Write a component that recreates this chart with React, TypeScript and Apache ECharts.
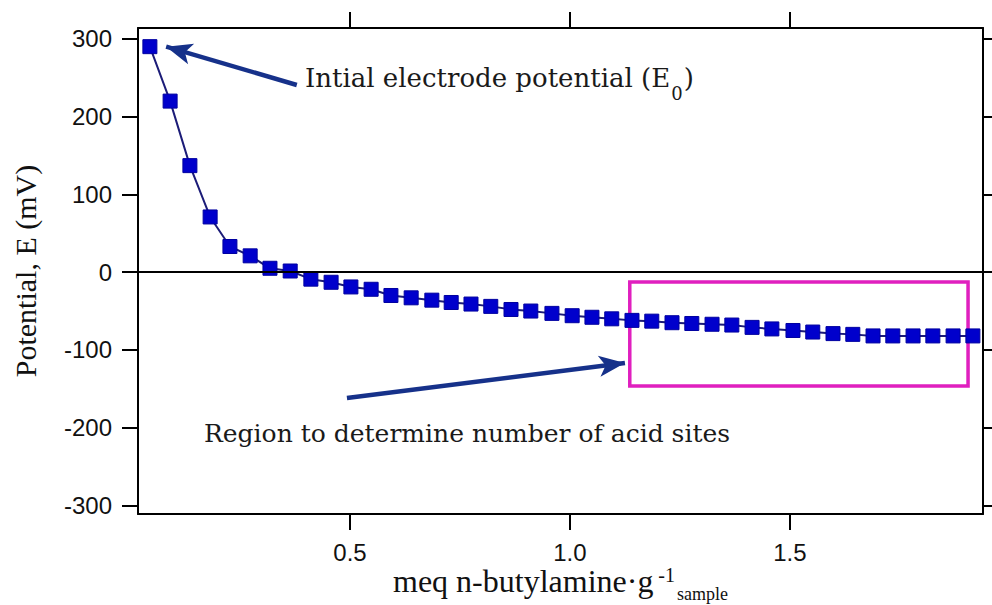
import React, { useEffect, useRef } from 'react';
import * as echarts from 'echarts';

// meq n-butylamine per g sample (x) and electrode potential E in mV (y)
const amineDose = [
  0.045, 0.091, 0.136, 0.182, 0.227, 0.273, 0.318, 0.364, 0.411, 0.457,
  0.502, 0.548, 0.593, 0.639, 0.686, 0.730, 0.775, 0.820, 0.866, 0.911,
  0.959, 1.005, 1.050, 1.095, 1.141, 1.186, 1.232, 1.277, 1.323, 1.368,
  1.414, 1.459, 1.507, 1.552, 1.598, 1.643, 1.689, 1.734, 1.780, 1.825,
  1.871, 1.916,
];
const potential = [
  290, 220, 137, 71, 33, 21, 5, 1.5, -9, -13,
  -19, -22, -30, -33, -36, -39, -41, -44, -48, -50,
  -53, -56, -58, -60, -62, -63, -65, -66, -67, -68,
  -71, -73, -75, -77, -79, -80, -82, -82, -82, -82,
  -82, -82,
];
const xTicks = [0.5, 1.0, 1.5];
const yTicks = [-300, -200, -100, 0, 100, 200, 300];
const xRange = [0.018, 1.939];
const yRange = [-311, 314];
const regionBox = [[1.136, -12.6], [1.905, -146.3]];
const arrowInitial = [[0.379, 240.7], [0.082, 290]];
const arrowRegion = [[0.493, -161.8], [1.125, -116.8]];
const annotationInitial = 'Intial electrode potential (E';
const annotationInitialSub = '0';
const annotationRegion = 'Region to determine number of acid sites';

export default function App() {
  const ref = useRef<HTMLDivElement>(null);
  useEffect(() => {
    const chart = echarts.init(ref.current as HTMLDivElement, null, { renderer: 'svg' });
    const axisLine = { show: true, onZero: false, lineStyle: { color: '#000', width: 2 } };
    const tick = (values: number[]) => ({
      show: true,
      inside: false,
      length: 16,
      customValues: values,
      lineStyle: { color: '#000', width: 2 },
    });
    const arrowColor = '#16318a';
    const serif = '"DejaVu Serif", serif';
    const times = '"Liberation Serif", serif';
    const sans = '"Liberation Sans", Arial, sans-serif';
    chart.setOption({
      animation: false,
      backgroundColor: '#fff',
      grid: { left: 138, right: 9, top: 28, bottom: 91, containLabel: false, outerBoundsMode: 'none' },
      xAxis: [
        {
          type: 'value',
          position: 'bottom',
          min: xRange[0],
          max: xRange[1],
          axisLine,
          axisTick: tick(xTicks),
          splitLine: { show: false },
          axisLabel: {
            customValues: xTicks,
            formatter: (v: number) => v.toFixed(1),
            color: '#111',
            fontSize: 24,
            fontFamily: sans,
            margin: 26,
          },
          name: '{m|meq n-butylamine·g}{sup|-1}{sub|sample}',
          nameLocation: 'middle',
          nameGap: 51,
          nameMoveOverlap: false,
          nameTextStyle: {
            rich: {
              m: { fontSize: 32, fontFamily: times, color: '#111', verticalAlign: 'top', padding: [0, 0, 0, 0] },
              sup: { fontSize: 20, fontFamily: times, color: '#111', verticalAlign: 'top', padding: [0, 2, 0, 5] },
              sub: { fontSize: 18, fontFamily: times, color: '#111', verticalAlign: 'top', padding: [20, 0, 0, 0] },
            },
            fontSize: 32,
            fontFamily: times,
            color: '#111',
          },
        },
        {
          type: 'value',
          position: 'top',
          min: xRange[0],
          max: xRange[1],
          axisLine,
          axisTick: tick(xTicks),
          splitLine: { show: false },
          axisLabel: { show: false, customValues: xTicks },
        },
      ],
      yAxis: [
        {
          type: 'value',
          position: 'left',
          min: yRange[0],
          max: yRange[1],
          axisLine,
          axisTick: tick(yTicks),
          splitLine: { show: false },
          axisLabel: {
            customValues: yTicks,
            formatter: (v: number) => String(v),
            color: '#111',
            fontSize: 24,
            fontFamily: sans,
            margin: 26,
          },
          name: 'Potential, E (mV)',
          nameLocation: 'middle',
          nameGap: 98,
          nameMoveOverlap: false,
          nameTextStyle: { fontSize: 30, fontFamily: times, color: '#111' },
        },
        {
          type: 'value',
          position: 'right',
          min: yRange[0],
          max: yRange[1],
          axisLine,
          axisTick: tick(yTicks),
          splitLine: { show: false },
          axisLabel: { show: false, customValues: yTicks },
        },
      ],
      series: [
        {
          type: 'line',
          data: amineDose.map((x, i) => [x, potential[i]]),
          symbol: 'rect',
          symbolSize: 14,
          showSymbol: true,
          clip: false,
          lineStyle: { color: '#1c1c78', width: 2 },
          itemStyle: { color: '#0000cc', borderColor: '#0000a0', borderWidth: 1 },
          emphasis: { disabled: true },
          silent: true,
          z: 3,
          markLine: {
            silent: true,
            symbol: ['none', 'none'],
            label: { show: false },
            emphasis: { disabled: true },
            data: [
              { yAxis: 0, lineStyle: { color: '#000', width: 2, type: 'solid' } },
              [
                { coord: arrowInitial[0], symbol: 'none', lineStyle: { color: arrowColor, width: 4.5, type: 'solid' } },
                { coord: arrowInitial[1], symbol: 'arrow', symbolSize: [16, 26], lineStyle: { color: arrowColor, width: 4.5, type: 'solid' } },
              ],
              [
                { coord: arrowRegion[0], symbol: 'none', lineStyle: { color: arrowColor, width: 4.5, type: 'solid' } },
                { coord: arrowRegion[1], symbol: 'arrow', symbolSize: [16, 26], lineStyle: { color: arrowColor, width: 4.5, type: 'solid' } },
              ],
            ],
          },
          markArea: {
            silent: true,
            itemStyle: { color: 'rgba(0,0,0,0)', borderColor: '#e01fbf', borderWidth: 3.5 },
            label: { show: false },
            emphasis: { disabled: true },
            data: [[{ coord: regionBox[0] }, { coord: regionBox[1] }]],
          },
        },
      ],
      graphic: [
        {
          type: 'text',
          x: 305,
          y: 63,
          silent: true,
          style: {
            text: `{m|${annotationInitial}}{s|${annotationInitialSub}}{m|)}`,
            align: 'left',
            verticalAlign: 'top',
            rich: {
              m: { fontSize: 26, fontFamily: serif, fill: '#1a1a1a', verticalAlign: 'top', padding: [2, 0, 0, 0] },
              s: { fontSize: 18, fontFamily: serif, fill: '#1a1a1a', verticalAlign: 'top', padding: [21, 1, 0, 1] },
            },
          },
        },
        {
          type: 'text',
          x: 204,
          y: 433,
          silent: true,
          style: {
            text: annotationRegion,
            align: 'left',
            verticalAlign: 'middle',
            fontSize: 25,
            fontFamily: serif,
            fill: '#1a1a1a',
          },
        },
      ],
    });
    return () => chart.dispose();
  }, []);
  return <div ref={ref} style={{ position: 'fixed', left: 0, top: 0, width: 992, height: 605 }} />;
}
